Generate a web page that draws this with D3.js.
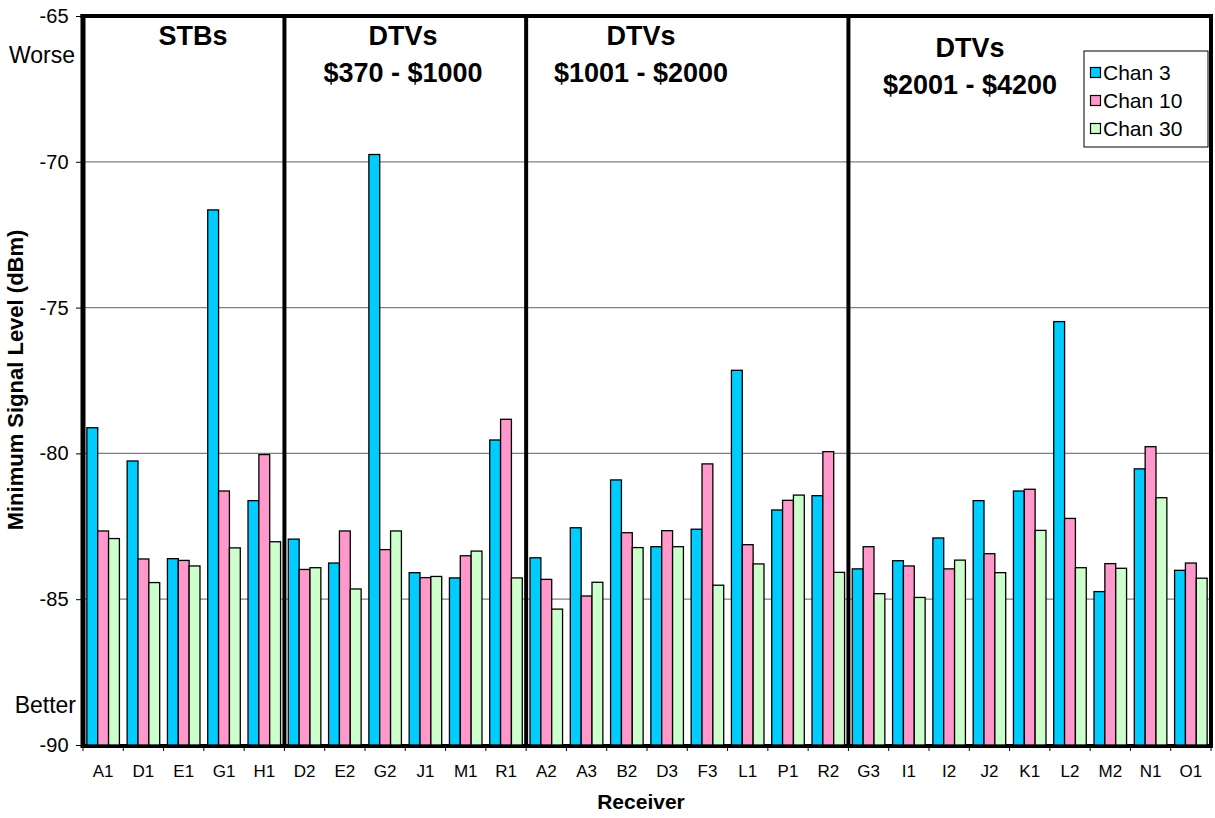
<!DOCTYPE html>
<html>
<head>
<meta charset="utf-8">
<script src="https://cdn.jsdelivr.net/npm/d3@7/dist/d3.min.js"></script>
<style>
  html, body { margin: 0; padding: 0; background: #fff; }
  svg { display: block; font-family: "Liberation Sans", Arial, sans-serif; }
</style>
</head>
<body>
<svg id="chart" width="1215" height="818"></svg>
<script>
// ---------------- data ----------------
const categories = ["A1","D1","E1","G1","H1","D2","E2","G2","J1","M1","R1","A2","A3","B2","D3","F3","L1","P1","R2","G3","I1","I2","J2","K1","L2","M2","N1","O1"];
const seriesNames = ["Chan 3","Chan 10","Chan 30"];
const chan3  = [-79.12,-80.26,-83.61,-71.65,-81.62,-82.94,-83.76,-69.75,-84.09,-84.27,-79.54,-83.58,-82.55,-80.91,-83.20,-82.60,-77.15,-81.94,-81.45,-83.96,-83.68,-82.90,-81.62,-81.29,-75.48,-84.74,-80.53,-84.01];
const chan10 = [-82.66,-83.62,-83.67,-81.29,-80.04,-83.98,-82.66,-83.30,-84.26,-83.51,-78.83,-84.32,-84.89,-82.72,-82.65,-80.36,-83.13,-81.61,-79.94,-83.20,-83.86,-83.96,-83.44,-81.23,-82.23,-83.78,-79.77,-83.76];
const chan30 = [-82.92,-84.43,-83.86,-83.24,-83.03,-83.92,-84.65,-82.66,-84.22,-83.35,-84.27,-85.34,-84.42,-83.23,-83.20,-84.52,-83.79,-81.43,-84.08,-84.81,-84.94,-83.66,-84.09,-82.64,-83.92,-83.94,-81.52,-84.28];
const yTicks = [-90,-85,-80,-75,-70,-65];
const groupStarts = ["D2","A2","G3"];          // first category of groups 2..4
const groupTitles = [["STBs"],["DTVs","$370 - $1000"],["DTVs","$1001 - $2000"],["DTVs","$2001 - $4200"]];
const colors = ["#00CCFF","#FF99CC","#CCFFCC"];

// ---------------- layout ----------------
const svg = d3.select("#chart");
const pL = 83, pR = 1211, pT = 16, pB = 745;
const FONT = "Liberation Sans, Arial, sans-serif";

const x = d3.scaleBand().domain(categories).range([pL, pR]).paddingInner(0).paddingOuter(0);
const bw = x.bandwidth();
const xs = d3.scaleBand().domain(seriesNames).range([bw*0.096, bw*(1-0.096)]).padding(0);
const y = d3.scaleLinear().domain([-90,-65]).range([pB, pT]);

const allSeries = [chan3, chan10, chan30];

// gridlines
svg.append("g").selectAll("line").data(yTicks.filter(t => t > -90 && t < -65)).join("line")
  .attr("x1", pL).attr("x2", pR)
  .attr("y1", d => y(d)).attr("y2", d => y(d))
  .attr("stroke", "#808080").attr("stroke-width", 1.2);

// bottom axis line (under bars)
svg.append("line").attr("x1", pL-2).attr("x2", pR+2).attr("y1", pB+1).attr("y2", pB+1)
  .attr("stroke", "#000").attr("stroke-width", 4);

// bars
const data = [];
categories.forEach((c, i) => {
  seriesNames.forEach((s, j) => data.push({c, s, j, v: allSeries[j][i]}));
});
svg.append("g").selectAll("rect").data(data).join("rect")
  .attr("x", d => x(d.c) + xs(d.s))
  .attr("y", d => y(d.v))
  .attr("width", xs.bandwidth())
  .attr("height", d => y(-90) - y(d.v))
  .attr("fill", d => colors[d.j])
  .attr("stroke", "#000").attr("stroke-width", 1.3);

// plot frame: top, left, right
svg.append("line").attr("x1", pL-2.5).attr("x2", pR+2).attr("y1", pT).attr("y2", pT).attr("stroke","#000").attr("stroke-width",4);
svg.append("line").attr("x1", pL).attr("x2", pL).attr("y1", pT-2).attr("y2", pB+3).attr("stroke","#000").attr("stroke-width",5);
svg.append("line").attr("x1", pR).attr("x2", pR).attr("y1", pT-2).attr("y2", pB+3).attr("stroke","#000").attr("stroke-width",4);

// group separators
svg.append("g").selectAll("line").data(groupStarts).join("line")
  .attr("x1", d => x(d)).attr("x2", d => x(d))
  .attr("y1", pT).attr("y2", pB)
  .attr("stroke", "#000").attr("stroke-width", 4);

// y axis ticks & labels
const yAxis = d3.axisLeft(y).tickValues(yTicks).tickSize(5).tickPadding(7.5).tickFormat(d => String(d));
const gy = svg.append("g").attr("transform", `translate(${pL-2},0)`).call(yAxis);
gy.select(".domain").remove();
gy.selectAll(".tick line").attr("stroke", "#000");
gy.selectAll(".tick text").attr("font-size", 20).attr("fill", "#000").attr("font-family", FONT);

// x axis ticks & labels
const gx = svg.append("g").attr("transform", `translate(0,${pB+2})`)
  .call(d3.axisBottom(x).tickSize(0).tickPadding(18));
gx.select(".domain").remove();
gx.selectAll(".tick text").attr("font-size", 17).attr("fill", "#000").attr("font-family", FONT);
// boundary tick marks
svg.append("g").selectAll("line").data(d3.range(categories.length + 1)).join("line")
  .attr("x1", i => pL + i*bw).attr("x2", i => pL + i*bw)
  .attr("y1", pB).attr("y2", pB + 6)
  .attr("stroke", "#000").attr("stroke-width", 1);

// Worse / Better
svg.append("text").attr("x", 75).attr("y", 63).attr("text-anchor", "end").attr("font-size", 23).text("Worse");
svg.append("text").attr("x", 76).attr("y", 713).attr("text-anchor", "end").attr("font-size", 23).text("Better");

// axis titles
svg.append("text").attr("transform", "translate(23,380) rotate(-90)").attr("text-anchor", "middle")
  .attr("font-size", 22).attr("font-weight", "bold").text("Minimum Signal Level (dBm)");
svg.append("text").attr("x", 641).attr("y", 809).attr("text-anchor", "middle")
  .attr("font-size", 21).attr("font-weight", "bold").text("Receiver");

// group titles
const titlePos = [[193, 45], [403, 45], [641, 45], [970, 57]];
groupTitles.forEach((lines, i) => {
  const t = svg.append("text").attr("text-anchor", "middle").attr("font-size", 27).attr("font-weight", "bold");
  lines.forEach((ln, k) => {
    t.append("tspan").attr("x", titlePos[i][0]).attr("y", titlePos[i][1] + k*37).text(ln);
  });
});

// legend
const lg = svg.append("g").attr("transform", "translate(1084,51)");
lg.append("rect").attr("width", 124).attr("height", 96).attr("fill", "#fff").attr("stroke", "#000").attr("stroke-width", 1);
seriesNames.forEach((s, i) => {
  const ly = 16.5 + i*28;
  lg.append("rect").attr("x", 6.5).attr("y", ly).attr("width", 10).attr("height", 10)
    .attr("fill", colors[i]).attr("stroke", "#000").attr("stroke-width", 1.2);
  lg.append("text").attr("x", 19).attr("y", ly + 12).attr("font-size", 21).text(s);
});
</script>
</body>
</html>
